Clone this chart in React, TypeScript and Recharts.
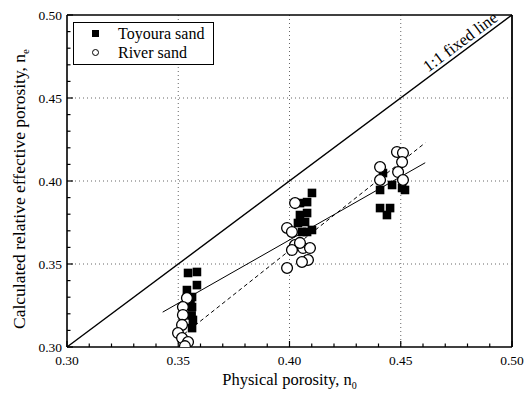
import React from "react";
import {
  ScatterChart, Scatter, XAxis, YAxis, CartesianGrid, ReferenceLine, ReferenceDot, Legend,
} from "recharts";

// Toyoura sand (filled squares)
const toyoura = [
  { x: 0.3544, y: 0.3446 }, { x: 0.3584, y: 0.3452 }, { x: 0.3584, y: 0.3373 }, { x: 0.3539, y: 0.3343 },
  { x: 0.3562, y: 0.3301 }, { x: 0.3555, y: 0.327 }, { x: 0.3562, y: 0.3241 }, { x: 0.356, y: 0.319 },
  { x: 0.3566, y: 0.3163 }, { x: 0.3562, y: 0.3114 },
  { x: 0.4101, y: 0.3928 }, { x: 0.4079, y: 0.3873 }, { x: 0.4047, y: 0.3867 }, { x: 0.4079, y: 0.3807 },
  { x: 0.4047, y: 0.3795 }, { x: 0.407, y: 0.3753 }, { x: 0.4038, y: 0.3747 }, { x: 0.4101, y: 0.3705 },
  { x: 0.4079, y: 0.3693 }, { x: 0.4056, y: 0.3693 },
  { x: 0.442, y: 0.4048 }, { x: 0.4407, y: 0.3946 }, { x: 0.4461, y: 0.3976 }, { x: 0.4506, y: 0.3958 },
  { x: 0.4519, y: 0.3946 }, { x: 0.4407, y: 0.3837 }, { x: 0.4452, y: 0.3837 }, { x: 0.4438, y: 0.3795 },
];

// River sand (open circles)
const river = [
  { x: 0.3539, y: 0.3295 }, { x: 0.3521, y: 0.3241 }, { x: 0.3521, y: 0.3193 }, { x: 0.3517, y: 0.3133 },
  { x: 0.3499, y: 0.3084 }, { x: 0.3517, y: 0.3054 }, { x: 0.3544, y: 0.303 }, { x: 0.353, y: 0.3005 },
  { x: 0.4025, y: 0.3867 }, { x: 0.3989, y: 0.3717 }, { x: 0.4011, y: 0.3693 }, { x: 0.4025, y: 0.3614 },
  { x: 0.4061, y: 0.3596 }, { x: 0.4092, y: 0.3596 }, { x: 0.4011, y: 0.3584 }, { x: 0.4083, y: 0.3524 },
  { x: 0.4056, y: 0.3512 }, { x: 0.3989, y: 0.3476 }, { x: 0.4047, y: 0.3627 },
  { x: 0.4483, y: 0.4175 }, { x: 0.451, y: 0.4169 }, { x: 0.4506, y: 0.4114 }, { x: 0.4488, y: 0.4054 },
  { x: 0.451, y: 0.4006 }, { x: 0.4407, y: 0.4084 }, { x: 0.4407, y: 0.4006 },
];

// lines
const oneToOne = [{ x: 0.3, y: 0.3 }, { x: 0.5, y: 0.5 }];
const fitSolid = [{ x: 0.343, y: 0.321 }, { x: 0.461, y: 0.411 }];
const fitDashed = [{ x: 0.35, y: 0.305 }, { x: 0.461, y: 0.423 }];
const oneToOneLabelAt = 0.4793;

const domain: [number, number] = [0.3, 0.5];
const ticks = [0.3, 0.31, 0.32, 0.33, 0.34, 0.35, 0.36, 0.37, 0.38, 0.39, 0.4, 0.41, 0.42, 0.43, 0.44, 0.45, 0.46, 0.47, 0.48, 0.49, 0.5];
const gridValues = [0.35, 0.4, 0.45];

const W = 529;
const H = 397;
const M = { top: 15, right: 17, left: 0, bottom: 0 };
const FONT = "'Liberation Serif', 'Times New Roman', serif";

const isMajor = (v: number) => Math.round(v * 100) % 5 === 0;

const XTick = (props: any) => {
  const { x, y, payload } = props;
  const v = payload.value;
  const major = isMajor(v);
  return (
    <g>
      <line x1={x} x2={x} y1={y} y2={y - (major ? 6 : 3.5)} stroke="#000" strokeWidth={1.2} />
      {major && (
        <text x={x} y={y + 18} textAnchor="middle" fontSize={13.5} fontFamily={FONT} fill="#000">
          {v.toFixed(2)}
        </text>
      )}
    </g>
  );
};

const YTick = (props: any) => {
  const { x, y, payload } = props;
  const v = payload.value;
  const major = isMajor(v);
  return (
    <g>
      <line x1={x} x2={x + (major ? 6 : 3.5)} y1={y} y2={y} stroke="#000" strokeWidth={1.2} />
      {major && (
        <text x={x - 5} y={y + 4.5} textAnchor="end" fontSize={13.5} fontFamily={FONT} fill="#000">
          {v.toFixed(2)}
        </text>
      )}
    </g>
  );
};

const Square = (props: any) => (
  <rect x={props.cx - 4.3} y={props.cy - 4.3} width={8.6} height={8.6} fill="#000" />
);
const Ring = (props: any) => (
  <circle cx={props.cx} cy={props.cy} r={5.4} fill="#fff" stroke="#000" strokeWidth={1.3} />
);

const angle = (-Math.atan((H - M.top - 50) / (W - 67 - M.right)) * 180) / Math.PI;

const LineLabel = (props: any) => (
  <text
    x={props.cx}
    y={props.cy}
    dy={-4}
    textAnchor="middle"
    fontSize={16.5}
    fontFamily={FONT}
    fill="#000"
    transform={`rotate(${angle} ${props.cx} ${props.cy})`}
  >
    1:1 fixed line
  </text>
);

const LegendBox = () => (
  <div
    style={{
      border: "1px solid #000",
      fontFamily: FONT,
      fontSize: 16,
      lineHeight: "19px",
      padding: "1px 0 2px 0",
      background: "#fff",
      boxSizing: "border-box",
      width: 141,
    }}
  >
    <div style={{ display: "flex", alignItems: "center" }}>
      <span style={{ display: "inline-block", width: 7, height: 7, background: "#000", marginLeft: 18, marginRight: 19 }} />
      Toyoura sand
    </div>
    <div style={{ display: "flex", alignItems: "center" }}>
      <span style={{ display: "inline-block", width: 5, height: 5, border: "1px solid #000", borderRadius: "50%", marginLeft: 18, marginRight: 19 }} />
      River sand
    </div>
  </div>
);

export default function App() {
  return (
    <div style={{ position: "absolute", left: 0, top: 0, background: "#fff" }}>
      <ScatterChart width={W} height={H} margin={M}>
        <CartesianGrid
          horizontal
          vertical
          horizontalValues={gridValues}
          verticalValues={gridValues}
          stroke="#666"
          strokeDasharray="1 3"
        />
        <XAxis
          type="number"
          dataKey="x"
          domain={domain}
          ticks={ticks}
          interval={0}
          allowDataOverflow
          height={50}
          tickLine={false}
          tickSize={0}
          tickMargin={0}
          axisLine={{ stroke: "#000", strokeWidth: 1.6 }}
          tick={<XTick />}
          label={{
            content: (p: any) => {
              const vb = p.viewBox;
              return (
                <text x={vb.x + vb.width / 2} y={vb.y + 38} textAnchor="middle" fontSize={16.5} fontFamily={FONT} fill="#000">
                  Physical porosity, n
                  <tspan fontSize={10} dy={4}>0</tspan>
                </text>
              );
            },
          }}
        />
        <YAxis
          type="number"
          dataKey="y"
          domain={domain}
          ticks={ticks}
          interval={0}
          allowDataOverflow
          width={67}
          tickLine={false}
          tickSize={0}
          tickMargin={0}
          axisLine={{ stroke: "#000", strokeWidth: 1.6 }}
          tick={<YTick />}
          label={{
            content: (p: any) => {
              const vb = p.viewBox;
              const cx = vb.x + 25;
              const cy = vb.y + vb.height / 2 + 8;
              return (
                <text x={cx} y={cy} textAnchor="middle" fontSize={17.5} fontFamily={FONT} fill="#000" transform={`rotate(-90 ${cx} ${cy})`}>
                  Calculated relative effective porosity, n
                  <tspan fontSize={11} dy={4}>e</tspan>
                </text>
              );
            },
          }}
        />
        <ReferenceLine y={domain[1]} stroke="#000" strokeWidth={1.6} />
        <ReferenceLine x={domain[1]} stroke="#000" strokeWidth={1.8} />
        <ReferenceLine segment={oneToOne} stroke="#000" strokeWidth={1.4} />
        <ReferenceLine segment={fitDashed} stroke="#000" strokeWidth={1} strokeDasharray="4 3" />
        <ReferenceLine segment={fitSolid} stroke="#000" strokeWidth={1} />
        <ReferenceDot x={oneToOneLabelAt} y={oneToOneLabelAt} shape={<LineLabel />} />
        <Scatter name="Toyoura sand" data={toyoura} shape={<Square />} isAnimationActive={false} />
        <Scatter name="River sand" data={river} shape={<Ring />} isAnimationActive={false} />
        <Legend
          layout="vertical"
          align="center"
          verticalAlign="middle"
          content={() => <LegendBox />}
          wrapperStyle={{ left: 73, top: 22, width: 141, height: "auto" }}
        />
      </ScatterChart>
    </div>
  );
}
